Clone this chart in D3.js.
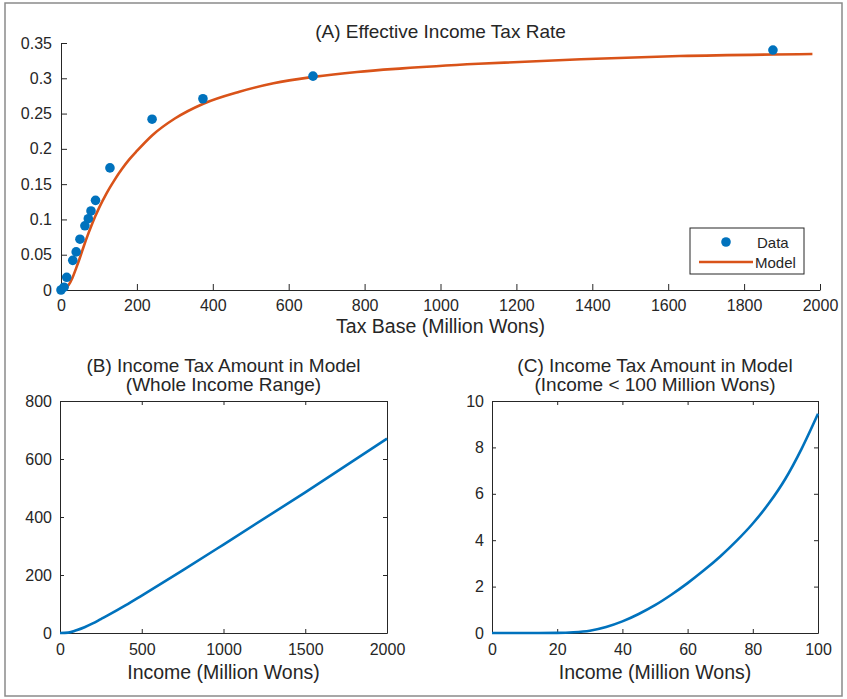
<!DOCTYPE html>
<html>
<head>
<meta charset="utf-8">
<script src="https://cdn.jsdelivr.net/npm/d3@7/dist/d3.min.js"></script>
<style>
  body { margin: 0; background: #fff; }
  text { font-family: "Liberation Sans", Arial, Helvetica, sans-serif; fill: #262626; }
</style>
</head>
<body>
<svg id="chart" width="847" height="699"></svg>
<script>
// ---- Panel A: effective income tax rate ----
const dataTaxBase = [0, 8, 15, 31, 40, 50, 63, 72, 79, 91, 129, 240, 374, 664, 1876];
const dataRate    = [0, 0.004, 0.018, 0.042, 0.054, 0.072, 0.091, 0.101, 0.112, 0.127, 0.173, 0.242, 0.271, 0.303, 0.340];
const modelTaxBase = [0, 10, 20, 30, 40, 50, 60, 70, 80, 90, 100, 120, 140, 160, 180, 200, 240, 300, 375, 470, 560, 665, 780, 900, 1100, 1370, 1630, 1980];
const modelRate    = [0, 0.002, 0.007, 0.017, 0.031, 0.046, 0.062, 0.077, 0.091, 0.104, 0.116, 0.137, 0.155, 0.171, 0.185, 0.197, 0.219, 0.243, 0.264, 0.281, 0.293, 0.302, 0.309, 0.314, 0.3205, 0.327, 0.3315, 0.3344];
const ticksA_x = [0, 200, 400, 600, 800, 1000, 1200, 1400, 1600, 1800, 2000];
const ticksA_y = [0, 0.05, 0.1, 0.15, 0.2, 0.25, 0.3, 0.35];

// ---- Panel B: tax amount, whole income range ----
const incomeB = [0, 50, 100, 150, 200, 250, 300, 400, 500, 750, 1000, 1500, 2000];
const taxB    = [0, 1.2, 9.4, 20, 33, 48, 63, 95, 129, 216, 305, 485, 670];
const ticksB_x = [0, 500, 1000, 1500, 2000];
const ticksB_y = [0, 200, 400, 600, 800];

// ---- Panel C: tax amount, income < 100 ----
const incomeC = [0, 10, 20, 25, 30, 35, 40, 45, 50, 55, 60, 65, 70, 75, 80, 85, 90, 95, 100];
const taxC    = [0, 0, 0.005, 0.03, 0.1, 0.26, 0.5, 0.82, 1.2, 1.65, 2.15, 2.7, 3.3, 3.97, 4.72, 5.6, 6.65, 7.95, 9.45];
const ticksC_x = [0, 20, 40, 60, 80, 100];
const ticksC_y = [0, 2, 4, 6, 8, 10];

const BLUE = "#0072BD", ORANGE = "#D95319", AX = "#262626";
const svg = d3.select("#chart");

// outer frame
svg.append("rect").attr("x", 5).attr("y", 3).attr("width", 837).attr("height", 693)
  .attr("fill", "none").attr("stroke", "#8a8a8a").attr("stroke-width", 1.5);

function styleAxis(g) {
  g.selectAll("path").attr("stroke", AX).attr("stroke-width", 1);
  g.selectAll("line").attr("stroke", AX).attr("stroke-width", 1);
  g.selectAll("text").attr("fill", AX).style("font-size", "16px")
    .style("font-family", "'Liberation Sans', Arial, sans-serif");
}
const fmt = d => String(d);

// ================= Panel A =================
const A = { l: 61, r: 820, t: 43, b: 290 };
const xA = d3.scaleLinear().domain([0, 2000]).range([A.l, A.r]);
const yA = d3.scaleLinear().domain([0, 0.35]).range([A.b, A.t]);

const gAx = svg.append("g").attr("transform", `translate(0,${A.b})`)
  .call(d3.axisBottom(xA).tickValues(ticksA_x).tickFormat(fmt).tickSizeInner(-6).tickSizeOuter(0).tickPadding(10));
styleAxis(gAx);
const gAy = svg.append("g").attr("transform", `translate(${A.l},0)`)
  .call(d3.axisLeft(yA).tickValues(ticksA_y).tickFormat(fmt).tickSizeInner(-6).tickSizeOuter(0).tickPadding(9));
styleAxis(gAy);

const lineA = d3.line().x((d, i) => xA(modelTaxBase[i])).y((d, i) => yA(modelRate[i])).curve(d3.curveMonotoneX);
svg.append("path").datum(modelRate).attr("d", lineA)
  .attr("fill", "none").attr("stroke", ORANGE).attr("stroke-width", 2.6);

svg.append("g").selectAll("circle").data(dataRate).join("circle")
  .attr("cx", (d, i) => xA(dataTaxBase[i])).attr("cy", d => yA(d)).attr("r", 4.8)
  .attr("fill", BLUE);

svg.append("text").attr("x", (A.l + A.r) / 2).attr("y", 38).attr("text-anchor", "middle")
  .style("font-size", "19px").text("(A) Effective Income Tax Rate");
svg.append("text").attr("x", (A.l + A.r) / 2).attr("y", 333).attr("text-anchor", "middle")
  .style("font-size", "19.5px").text("Tax Base (Million Wons)");

// legend
const lg = svg.append("g");
lg.append("rect").attr("x", 690).attr("y", 228).attr("width", 114).attr("height", 46)
  .attr("fill", "#fff").attr("stroke", AX).attr("stroke-width", 1);
lg.append("circle").attr("cx", 726).attr("cy", 242).attr("r", 4.8).attr("fill", BLUE);
lg.append("line").attr("x1", 699).attr("x2", 753).attr("y1", 262).attr("y2", 262)
  .attr("stroke", ORANGE).attr("stroke-width", 2.6);
lg.append("text").attr("x", 757).attr("y", 247.5).style("font-size", "15px").text("Data");
lg.append("text").attr("x", 755).attr("y", 267.5).style("font-size", "15px").text("Model");

// ============ Panels B & C ============
function boxPanel(P, xDom, yDom, xt, yt, xs, ys, title1, title2) {
  const x = d3.scaleLinear().domain(xDom).range([P.l, P.r]);
  const y = d3.scaleLinear().domain(yDom).range([P.b, P.t]);
  const gb = svg.append("g").attr("transform", `translate(0,${P.b})`)
    .call(d3.axisBottom(x).tickValues(xt).tickFormat(fmt).tickSizeInner(-4).tickSizeOuter(0).tickPadding(11));
  styleAxis(gb);
  const gt = svg.append("g").attr("transform", `translate(0,${P.t})`)
    .call(d3.axisTop(x).tickValues(xt).tickFormat("").tickSizeInner(-4).tickSizeOuter(0));
  styleAxis(gt);
  const gl = svg.append("g").attr("transform", `translate(${P.l},0)`)
    .call(d3.axisLeft(y).tickValues(yt).tickFormat(fmt).tickSizeInner(-4).tickSizeOuter(0).tickPadding(8));
  styleAxis(gl);
  const gr = svg.append("g").attr("transform", `translate(${P.r},0)`)
    .call(d3.axisRight(y).tickValues(yt).tickFormat("").tickSizeInner(-4).tickSizeOuter(0));
  styleAxis(gr);
  const ln = d3.line().x((d, i) => x(xs[i])).y((d, i) => y(ys[i])).curve(d3.curveMonotoneX);
  svg.append("path").datum(ys).attr("d", ln)
    .attr("fill", "none").attr("stroke", BLUE).attr("stroke-width", 2.6);
  const cx = (P.l + P.r) / 2;
  svg.append("text").attr("x", cx).attr("y", 371.5).attr("text-anchor", "middle")
    .style("font-size", "19px").text(title1);
  svg.append("text").attr("x", cx).attr("y", 390.5).attr("text-anchor", "middle")
    .style("font-size", "19px").text(title2);
  svg.append("text").attr("x", cx).attr("y", 679).attr("text-anchor", "middle")
    .style("font-size", "19.5px").text("Income (Million Wons)");
}

boxPanel({ l: 60, r: 387, t: 401, b: 633 }, [0, 2000], [0, 800], ticksB_x, ticksB_y, incomeB, taxB,
  "(B) Income Tax Amount in Model", "(Whole Income Range)");
boxPanel({ l: 492, r: 818, t: 401, b: 633 }, [0, 100], [0, 10], ticksC_x, ticksC_y, incomeC, taxC,
  "(C) Income Tax Amount in Model", "(Income < 100 Million Wons)");
</script>
</body>
</html>
